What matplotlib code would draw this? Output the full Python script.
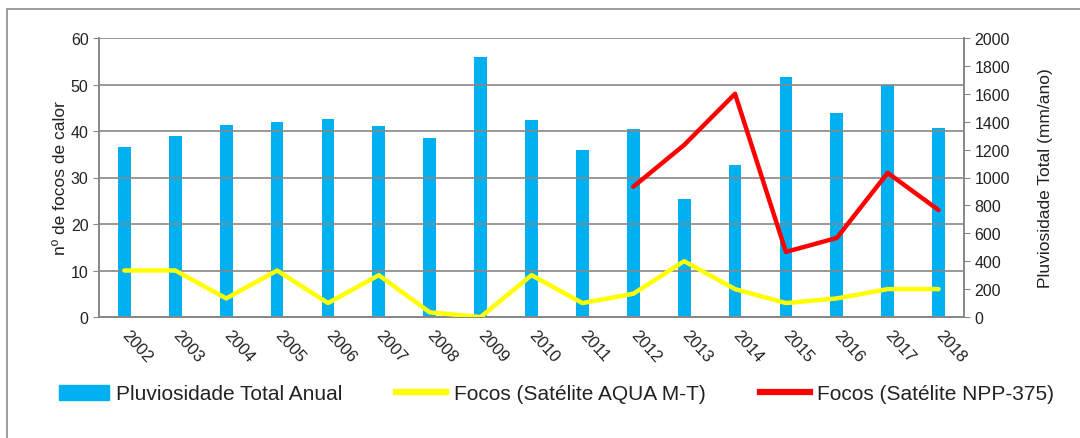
import matplotlib
matplotlib.use("Agg")
import matplotlib.pyplot as plt
from matplotlib.patches import Rectangle
from matplotlib.lines import Line2D
from matplotlib.patches import Patch

plt.rcParams["font.family"] = ["Liberation Sans", "DejaVu Sans"]

years = [str(y) for y in range(2002, 2019)]
chuva = [1222, 1298, 1375, 1399, 1420, 1370, 1284, 1864, 1415, 1200,
         1348, 845, 1093, 1723, 1461, 1661, 1353]
focos_aqua = [10, 10, 4, 10, 3, 9, 1, 0, 9, 3, 5, 12, 6, 3, 4, 6, 6]
anos_npp = ["2012", "2013", "2014", "2015", "2016", "2017", "2018"]
focos_npp = [28, 37, 48, 14, 17, 31, 23]

GRAY = "#878787"
TXT = "#222222"

fig = plt.figure(figsize=(10.8, 4.39), dpi=100)
# outer chart border
fig.patches.append(Rectangle((7 / 1080, -0.1), 1.2, (439 - 10) / 439 + 0.1,
                             transform=fig.transFigure, fill=False,
                             edgecolor="#8c8c8c", lw=1.2))

ax = fig.add_axes([99 / 1080, 121 / 439, 865 / 1080, 279 / 439])
ax2 = ax.twinx()

x = list(range(len(years)))
ax2.bar(x, chuva, width=0.25, color="#00B0F0", zorder=2)
ax2.set_ylim(0, 2000)
ax2.set_yticks(range(0, 2001, 200))

ax.set_zorder(ax2.get_zorder() + 1)
ax.patch.set_visible(False)
ax.plot(x, focos_aqua, color="#FFFF00", lw=3.2, solid_capstyle="round", zorder=3)
xn = [years.index(a) for a in anos_npp]
ax.plot(xn, focos_npp, color="#FF0000", lw=3.2, solid_capstyle="round", zorder=4)
ax.set_ylim(0, 60)
ax.set_yticks(range(0, 61, 10))
ax.set_xlim(-0.5, len(years) - 0.5)
ax.grid(axis="y", color=GRAY, lw=1.2)
ax.set_axisbelow(True)
ax2.grid(False)

ax.set_xticks(x)
ax.set_xticklabels(years, rotation=-48, ha="left", va="center",
                   rotation_mode="anchor", fontsize=12, color=TXT)
ax.tick_params(axis="x", length=0, pad=11)
ax.tick_params(axis="y", colors=GRAY, labelcolor=TXT, labelsize=11.5, length=4)
ax2.tick_params(axis="y", colors=GRAY, labelcolor=TXT, labelsize=11.5, length=4)

for a in (ax, ax2):
    for s in a.spines.values():
        s.set_color(GRAY)
        s.set_linewidth(1.2)
ax.spines["top"].set_visible(False)
ax2.spines["top"].set_visible(False)

ax.set_ylabel("nº de focos de calor", fontsize=12.5, color=TXT, labelpad=2)
ax2.set_ylabel("Pluviosidade Total (mm/ano)", fontsize=12.5, color=TXT, labelpad=20)

handles = [Patch(color="#00B0F0"),
           Line2D([], [], color="#FFFF00", lw=4.5),
           Line2D([], [], color="#FF0000", lw=4.5)]
labels = ["Pluviosidade Total Anual", "Focos (Satélite AQUA M-T)",
          "Focos (Satélite NPP-375)"]
fig.legend(handles, labels, loc="center", bbox_to_anchor=(0.515, 1 - 395 / 439),
           ncol=3, frameon=False, fontsize=15, handlelength=2.4,
           handletextpad=0.35, columnspacing=2.6, labelcolor=TXT)

fig.savefig("out.png", dpi=100)
